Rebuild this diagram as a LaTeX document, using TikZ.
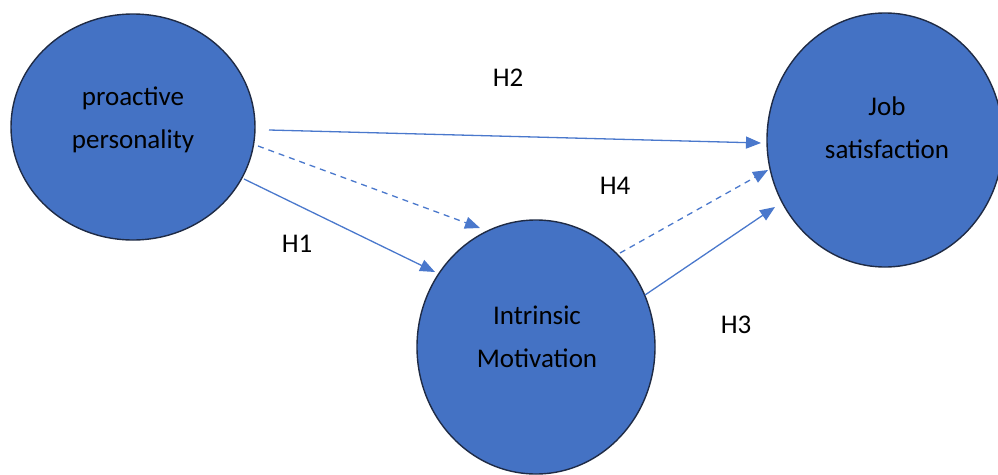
\documentclass[tikz,border=0pt]{standalone}
\usepackage{fontspec}
\setmainfont{Carlito}
\usetikzlibrary{shapes.geometric,arrows.meta}
\definecolor{fillblue}{HTML}{4472C4}
\definecolor{edgeblue}{HTML}{1F2B45}
\definecolor{lineblue}{HTML}{4A78CC}
\tikzset{
  construct/.style={ellipse,draw=edgeblue,line width=1.4pt,fill=fillblue,inner sep=0pt},
  ctext/.style={align=center,font=\fontsize{27}{43}\selectfont,text=black,inner sep=0pt},
  hlabel/.style={font=\fontsize{27}{32}\selectfont,text=black,inner sep=0pt},
  link/.style={draw=lineblue,line width=1.3pt,-{Triangle[length=15pt,width=12pt]}},
  dlink/.style={link,dash pattern=on 6pt off 5pt}
}
\begin{document}
\begin{tikzpicture}[x=1pt,y=-1pt]
\useasboundingbox (0,0) rectangle (998,474);
\node[construct,minimum width=244pt,minimum height=226pt] (pp) at (133,127) {};
\node[construct,minimum width=238pt,minimum height=254pt] (im) at (536,347) {};
\node[construct,minimum width=236pt,minimum height=254pt] (js) at (885,140) {};
\node[ctext] (ppt) at (133,120) {proactive\\personality};
\node[ctext] (imt) at (537,337) {Intrinsic\\Motivation};
\node[ctext] (jst) at (887,128) {Job\\satisfaction};
\coordinate (a1) at (269,130); \coordinate (b1) at (761,143);
\coordinate (a2) at (258,146); \coordinate (b2) at (480,228);
\coordinate (a3) at (244,179); \coordinate (b3) at (435,272);
\coordinate (a4) at (620,253); \coordinate (b4) at (768,170);
\coordinate (a5) at (645,295); \coordinate (b5) at (775,207);
\draw[link] (a1) -- (b1);
\draw[dlink] (a2) -- (b2);
\draw[link] (a3) -- (b3);
\draw[dlink] (a4) -- (b4);
\draw[link] (a5) -- (b5);
\node[hlabel] (h2) at (508,78) {H2};
\node[hlabel] (h4) at (615,186) {H4};
\node[hlabel] (h1) at (297,244) {H1};
\node[hlabel] (h3) at (736,325) {H3};
\end{tikzpicture}
\end{document}
